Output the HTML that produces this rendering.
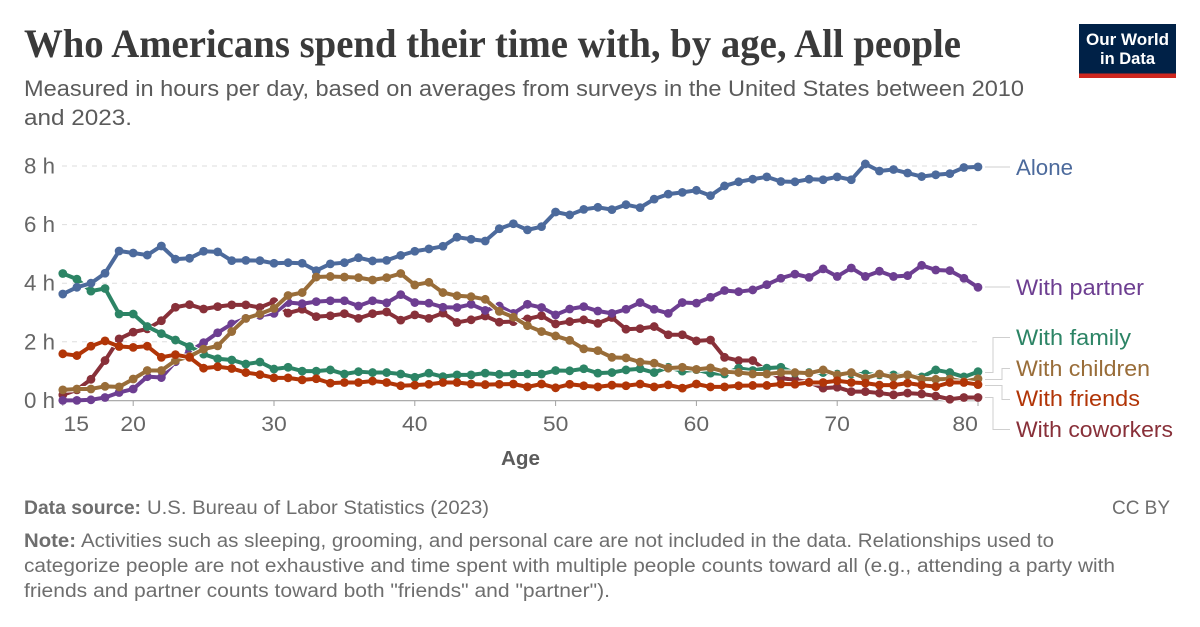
<!DOCTYPE html>
<html lang="en">
<head>
<meta charset="utf-8">
<title>Who Americans spend their time with, by age, All people</title>
<style>
html,body{margin:0;padding:0;background:#fff;}
svg{display:block;}
text{font-family:"Liberation Sans",sans-serif;}
.serif{font-family:"Liberation Serif",serif;font-weight:bold;}
</style>
</head>
<body>
<svg id="chart" width="1200" height="627" viewBox="0 0 1200 627" xmlns="http://www.w3.org/2000/svg">
  <rect x="0" y="0" width="1200" height="627" fill="#fff"/>
  <text class="serif" x="24" y="57" font-size="40" fill="#3a3a3a" textLength="937" lengthAdjust="spacingAndGlyphs">Who Americans spend their time with, by age, All people</text>
  <text x="24" y="96" font-size="22" fill="#5b5b5b" textLength="1000" lengthAdjust="spacingAndGlyphs">Measured in hours per day, based on averages from surveys in the United States between 2010</text>
  <text x="24" y="125" font-size="22" fill="#5b5b5b" textLength="108" lengthAdjust="spacingAndGlyphs">and 2023.</text>

  <g>
    <rect x="1079" y="24" width="97" height="54" fill="#002147"/>
    <rect x="1079" y="73.5" width="97" height="4.5" fill="#ce261e"/>
    <text x="1127.5" y="45" font-size="16.5" font-weight="bold" fill="#fff" text-anchor="middle" textLength="83" lengthAdjust="spacingAndGlyphs">Our World</text>
    <text x="1127.5" y="64" font-size="16.5" font-weight="bold" fill="#fff" text-anchor="middle" textLength="55" lengthAdjust="spacingAndGlyphs">in Data</text>
  </g>

  <g id="grid"></g>
  <g id="y-axis"></g>
  <g id="x-axis"></g>
  <text x="520.5" y="465" font-size="20" font-weight="bold" fill="#5b5b5b" text-anchor="middle" textLength="39" lengthAdjust="spacingAndGlyphs">Age</text>
  <g id="series"></g>

  <g fill="none" stroke="#cfcfcf" stroke-width="1">
    <path d="M985 167H1010"/>
    <path d="M985 287H1010"/>
    <path d="M985 372.5H993V337.5H1010"/>
    <path d="M985 379.5H1002V368.5H1010"/>
    <path d="M985 385.5H1002V399.5H1010"/>
    <path d="M985 397.5H993V429.5H1010"/>
  </g>
  <g font-size="22">
    <text x="1016" y="175" fill="#4C6A9C" textLength="57" lengthAdjust="spacingAndGlyphs">Alone</text>
    <text x="1016" y="295" fill="#6D3E91" textLength="128" lengthAdjust="spacingAndGlyphs">With partner</text>
    <text x="1016" y="345" fill="#2C8465" textLength="115" lengthAdjust="spacingAndGlyphs">With family</text>
    <text x="1016" y="376" fill="#996D39" textLength="134" lengthAdjust="spacingAndGlyphs">With children</text>
    <text x="1016" y="406" fill="#B13507" textLength="124" lengthAdjust="spacingAndGlyphs">With friends</text>
    <text x="1016" y="437" fill="#883039" textLength="157" lengthAdjust="spacingAndGlyphs">With coworkers</text>
  </g>

  <g font-size="19" fill="#6e6e6e">
    <text x="24" y="514" font-weight="bold" textLength="117" lengthAdjust="spacingAndGlyphs">Data source:</text>
    <text x="147" y="514" textLength="342" lengthAdjust="spacingAndGlyphs">U.S. Bureau of Labor Statistics (2023)</text>
    <text x="1112" y="514" textLength="58" lengthAdjust="spacingAndGlyphs">CC BY</text>
    <text x="24" y="547" font-weight="bold" textLength="52" lengthAdjust="spacingAndGlyphs">Note:</text>
    <text x="81" y="547" textLength="973" lengthAdjust="spacingAndGlyphs">Activities such as sleeping, grooming, and personal care are not included in the data. Relationships used to</text>
    <text x="24" y="572" textLength="1091" lengthAdjust="spacingAndGlyphs">categorize people are not exhaustive and time spent with multiple people counts toward all (e.g., attending a party with</text>
    <text x="24" y="597" textLength="586" lengthAdjust="spacingAndGlyphs">friends and partner counts toward both "friends" and "partner").</text>
  </g>
</svg>
<script>
// Ages 15 to 80, one value per year of age
const ageStart = 15;
const alone = [3.63,3.86,4.0,4.34,5.10,5.03,4.96,5.27,4.82,4.85,5.09,5.07,4.77,4.78,4.77,4.68,4.70,4.68,4.43,4.66,4.70,4.87,4.76,4.78,4.95,5.09,5.17,5.26,5.57,5.50,5.44,5.86,6.03,5.82,5.93,6.43,6.33,6.52,6.59,6.51,6.68,6.58,6.87,7.04,7.10,7.17,6.99,7.32,7.46,7.55,7.63,7.47,7.46,7.55,7.53,7.63,7.53,8.07,7.83,7.88,7.76,7.64,7.70,7.74,7.95,7.97];
const withPartner = [0.0,0.0,0.02,0.10,0.27,0.39,0.81,0.78,1.32,1.67,1.97,2.31,2.61,2.80,2.90,2.97,3.34,3.30,3.37,3.40,3.40,3.22,3.40,3.33,3.61,3.34,3.32,3.18,3.17,3.28,3.07,3.22,2.97,3.28,3.17,2.92,3.12,3.20,3.05,2.97,3.11,3.34,3.11,2.97,3.34,3.32,3.52,3.75,3.71,3.77,3.95,4.17,4.31,4.20,4.49,4.23,4.52,4.23,4.41,4.23,4.26,4.61,4.45,4.43,4.17,3.86];
const withFamily = [4.33,4.14,3.73,3.82,2.95,2.95,2.52,2.28,2.06,1.84,1.58,1.42,1.38,1.24,1.31,1.07,1.13,1.00,1.00,1.04,0.90,0.98,0.95,0.95,0.90,0.79,0.93,0.81,0.87,0.87,0.93,0.89,0.90,0.90,0.90,1.02,1.01,1.08,0.93,0.95,1.04,1.08,0.95,1.13,1.00,1.05,0.93,0.90,1.10,1.02,1.10,1.13,0.93,0.95,0.95,0.90,0.90,0.90,0.87,0.87,0.87,0.80,1.04,0.95,0.80,0.98];
const withCoworkers = [0.19,0.36,0.72,1.36,2.10,2.33,2.44,2.72,3.18,3.27,3.12,3.20,3.26,3.26,3.17,3.37,2.98,3.11,2.86,2.89,2.96,2.80,2.96,3.02,2.74,2.92,2.80,2.98,2.66,2.75,2.88,2.67,2.69,2.78,2.89,2.61,2.69,2.75,2.63,2.83,2.43,2.45,2.52,2.24,2.24,2.03,2.06,1.47,1.36,1.36,1.00,0.76,0.70,0.62,0.42,0.45,0.30,0.30,0.25,0.19,0.25,0.22,0.15,0.04,0.10,0.10];
const withChildren = [0.36,0.39,0.39,0.48,0.46,0.73,1.02,1.02,1.36,1.50,1.75,1.86,2.35,2.80,2.95,3.14,3.58,3.68,4.21,4.23,4.21,4.19,4.11,4.19,4.33,3.94,4.03,3.68,3.57,3.54,3.45,3.04,2.84,2.55,2.35,2.20,2.05,1.76,1.70,1.47,1.45,1.31,1.27,1.10,1.13,1.06,1.11,0.98,0.95,0.90,0.90,0.95,0.95,0.93,1.04,0.87,0.95,0.76,0.90,0.79,0.87,0.73,0.72,0.73,0.64,0.74];
const withFriends = [1.59,1.53,1.85,2.03,1.84,1.81,1.85,1.47,1.56,1.47,1.10,1.15,1.09,0.95,0.88,0.77,0.77,0.70,0.74,0.59,0.61,0.61,0.66,0.61,0.50,0.52,0.55,0.61,0.61,0.56,0.54,0.55,0.56,0.46,0.56,0.43,0.55,0.50,0.46,0.52,0.50,0.56,0.46,0.53,0.42,0.56,0.46,0.46,0.50,0.51,0.51,0.56,0.55,0.61,0.61,0.67,0.61,0.59,0.52,0.52,0.59,0.52,0.47,0.61,0.61,0.54];
const yTickValues = [0,2,4,6,8];
const yTickLabels = ["0 h","2 h","4 h","6 h","8 h"];
const xTickValues = [15,20,30,40,50,60,70,80];
const xTickLabels = ["15","20","30","40","50","60","70","80"];

const NS = "http://www.w3.org/2000/svg";
function xScale(age){ return 62.8 + (age - 15) * 14.08; }
function yScale(v){ return 400.4 - v * 29.3; }
function make(tag, attrs, parent){
  const el = document.createElementNS(NS, tag);
  for (const k in attrs) el.setAttribute(k, attrs[k]);
  parent.appendChild(el);
  return el;
}

const gridG = document.getElementById("grid");
const yG = document.getElementById("y-axis");
const xG = document.getElementById("x-axis");
const seriesG = document.getElementById("series");

yTickValues.forEach(function(v, i){
  if (v !== 0) {
    const ln = make("line", {x1: 62, x2: 980, y1: yScale(v), y2: yScale(v), stroke: "#dddddd", "stroke-width": 1, "stroke-dasharray": "5 5"}, gridG);
    
    
  }
  const t = make("text", {x: 24, y: yScale(v) + 7.5, "font-size": 22, fill: "#666666", textLength: 31, lengthAdjust: "spacingAndGlyphs"}, yG);
  t.textContent = yTickLabels[i];
  
  
});

const axisLine = make("line", {x1: 62, x2: 980, y1: 400.7, y2: 400.7, stroke: "#a1a1a1", "stroke-width": 1.2}, xG);



xTickValues.forEach(function(a, i){
  const x = xScale(a);
  const tick = make("line", {x1: x, x2: x, y1: 400.7, y2: 406, stroke: "#a1a1a1", "stroke-width": 1}, xG);
  
  
  let cx = x;
  if (a === 15) cx = x + 13.5;
  if (a === 80) cx = x - 12.8;
  const t = make("text", {x: cx, y: 431, "font-size": 21, fill: "#666666", "text-anchor": "middle", textLength: 25.5, lengthAdjust: "spacingAndGlyphs"}, xG);
  t.textContent = xTickLabels[i];
  
  
});

function drawSeries(values, color, name){
  const g = make("g", {}, seriesG);
  
  
  const d = values.map(function(v, i){
    return (i ? "L" : "M") + xScale(ageStart + i).toFixed(2) + " " + yScale(v).toFixed(2);
  }).join("");
  const halo = make("path", {d: d, fill: "none", stroke: "#ffffff", "stroke-width": 6, "stroke-linejoin": "round"}, g);
  
  
  const line = make("path", {d: d, fill: "none", stroke: color, "stroke-width": 4, "stroke-linejoin": "round"}, g);
  
  
  values.forEach(function(v, i){
    const c = make("circle", {cx: xScale(ageStart + i), cy: yScale(v), r: 4.4, fill: color}, g);
    
    
  });
}

drawSeries(withCoworkers, "#883039", "series-with-coworkers");
drawSeries(withPartner, "#6D3E91", "series-with-partner");
drawSeries(withFamily, "#2C8465", "series-with-family");
drawSeries(alone, "#4C6A9C", "series-alone");
drawSeries(withChildren, "#996D39", "series-with-children");
drawSeries(withFriends, "#B13507", "series-with-friends");
</script>
</body>
</html>
